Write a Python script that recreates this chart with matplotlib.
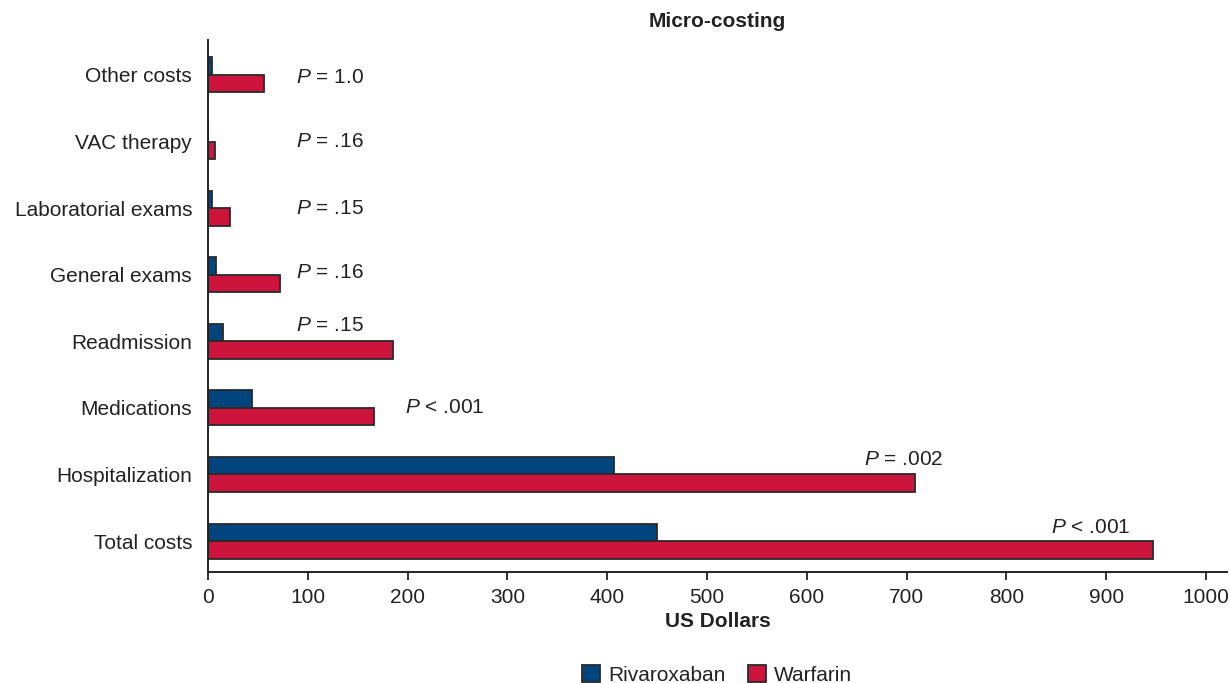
import numpy as np
import matplotlib
matplotlib.use('Agg')
import matplotlib.pyplot as plt

plt.rcParams['font.family'] = ['Liberation Sans', 'DejaVu Sans']
plt.rcParams['mathtext.fontset'] = 'custom'
plt.rcParams['mathtext.it'] = 'Liberation Sans:italic'
plt.rcParams['mathtext.rm'] = 'Liberation Sans'

# cost categories, bottom to top
categories = ['Total costs', 'Hospitalization', 'Medications', 'Readmission',
              'General exams', 'Laboratorial exams', 'VAC therapy', 'Other costs']
rivaroxaban = [450, 407, 44, 15, 8, 4, 0, 4]
warfarin = [947, 708, 166, 185, 72, 22, 7, 56]
p_labels = ['< .001', '= .002', '< .001', '= .15', '= .16', '= .15', '= .16', '= 1.0']
# where each P label sits (x in dollars, y offset from category centre)
p_x = [845, 657, 197, 88, 88, 88, 88, 88]
p_dy = [0.21, 0.22, 0.0, 0.24, 0.04, 0.0, 0.0, -0.04]

blue = '#00457d'
red = '#cc143c'
edge = '#2a2a2a'
fs = 15

fig = plt.figure(figsize=(12.3, 6.83), dpi=100)
ax = fig.add_axes([0.1691, 0.1625, 0.8285, 0.7789])

y = np.arange(len(categories))
h = 0.263
ax.barh(y + h / 2, rivaroxaban, height=h, color=blue, edgecolor=edge, linewidth=1.3, label='Rivaroxaban')
ax.barh(y - h / 2, warfarin, height=h, color=red, edgecolor=edge, linewidth=1.3, label='Warfarin')

for i in range(len(categories)):
    ax.text(p_x[i], y[i] + p_dy[i], '$\\it{P}$ ' + p_labels[i], fontsize=fs,
            va='center', ha='left', color='#222222')

ax.set_xlim(0, 1021)
ax.set_ylim(-0.465, 7.525)
ax.set_yticks(y)
ax.set_yticklabels(categories, fontsize=fs, color='#222222')
ax.tick_params(axis='y', length=0, pad=11.5)
ax.set_xticks(np.arange(0, 1001, 100))
ax.tick_params(axis='x', labelsize=fs, labelcolor='#222222', length=6, width=1.3,
               direction='out', color='#222222', pad=5.5)
ax.set_xlabel('US Dollars', fontsize=fs, fontweight='bold', labelpad=3.5, color='#222222')
for s in ['top', 'right']:
    ax.spines[s].set_visible(False)
for s in ['left', 'bottom']:
    ax.spines[s].set_linewidth(1.4)
    ax.spines[s].set_color('#222222')

fig.text(0.5835, 0.968, 'Micro-costing', fontsize=fs, fontweight='bold', ha='center', va='center',
         color='#222222')

fig.legend(loc='center', bbox_to_anchor=(0.583, 0.012), ncol=2, frameon=False, fontsize=fs,
           handlelength=0.85, handleheight=0.85, columnspacing=1.1, handletextpad=0.38,
           borderpad=0.0, labelcolor='#222222')

fig.savefig('out.png', dpi=100)
